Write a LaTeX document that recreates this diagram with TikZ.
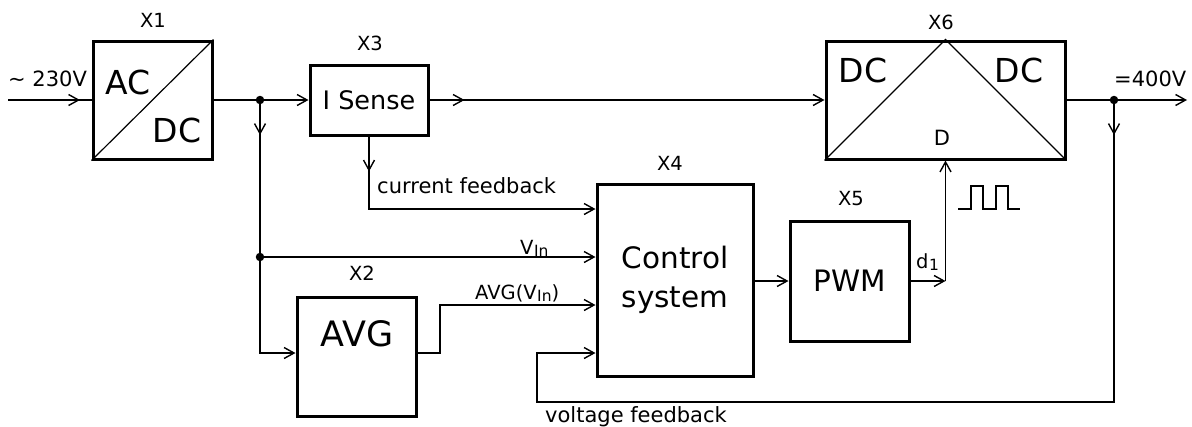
\documentclass[tikz,border=0pt]{standalone}
\usepackage{fontspec}
\setmainfont{DejaVu Sans}
\usetikzlibrary{arrows.meta,decorations.markings}
\newcommand\lowsub[1]{\raisebox{-2pt}{\fontsize{15.5}{15.5}\selectfont\kern0.5pt #1}}
\begin{document}
\begin{tikzpicture}[x=1pt,y=-1pt,
  >={Straight Barb[length=10pt,width=11pt]},
  conn/.style={line width=1.4pt},
  blk/.style={draw,line width=3pt,inner sep=0pt},
  thinline/.style={line width=1.2pt},
  tag/.style={font=\fontsize{19.5}{22}\selectfont,inner sep=0pt},
  sig/.style={font=\fontsize{21}{24}\selectfont,inner sep=0pt,anchor=base west},
  ssig/.style={font=\fontsize{19.5}{22}\selectfont,inner sep=0pt,anchor=base west},
  marrow/.style={postaction={decorate},decoration={markings,mark=at position #1 with {\arrow{Straight Barb[length=10pt,width=11pt]}}}},
  dot/.style={circle,fill,inner sep=0pt,minimum size=8.5pt}]
\useasboundingbox (0,0) rectangle (1192,426);

% blocks
\node[blk,minimum width=119pt,minimum height=118pt] (x1) at (152.5,100) {};
\draw[thinline] (x1.south west) -- (x1.north east);
\node[font=\fontsize{33}{36}\selectfont] (ac1) at (128,82) {AC};
\node[font=\fontsize{33}{36}\selectfont] (dc1) at (177,130) {DC};

\node[blk,minimum width=118pt,minimum height=70pt,font=\fontsize{25.5}{28}\selectfont] (x3) at (369,100) {I Sense};

\node[blk,minimum width=239pt,minimum height=118pt] (x6) at (945.5,100) {};
\draw[thinline] (x6.south west) -- (x6.north) -- (x6.south east);
\node[font=\fontsize{33}{36}\selectfont] (dc2) at (863,70) {DC};
\node[font=\fontsize{33}{36}\selectfont] (dc3) at (1019,70) {DC};
\node[font=\fontsize{21}{24}\selectfont] (dd) at (942,138) {D};

\node[blk,minimum width=156pt,minimum height=192pt,align=center,font=\fontsize{29.5}{39}\selectfont] (x4) at (675,280) {Control\\system};
\node[blk,minimum width=119pt,minimum height=120pt,font=\fontsize{29.5}{32}\selectfont] (x5) at (849.5,281) {PWM};
\node[blk,minimum width=119pt,minimum height=119pt] (x2) at (356.5,356.5) {};
\node[font=\fontsize{35}{38}\selectfont] (avg) at (357,334) {AVG};

% tags
\node[tag] (t1) at (153,20) {X1};
\node[tag] (t3) at (370,43) {X3};
\node[tag] (t6) at (941,22) {X6};
\node[tag] (t4) at (670,163) {X4};
\node[tag] (t5) at (851,199) {X5};
\node[tag] (t2) at (362,273) {X2};

% coordinates
\coordinate (in) at (8,100);
\coordinate (j1) at (260,100);
\coordinate (j2) at (260,257);
\coordinate (j3) at (260,353);
\coordinate (cfy) at (0,209);
\coordinate (a1) at (440,353);
\coordinate (a2) at (440,305);
\coordinate (j4) at (1114,100);
\coordinate (v1) at (1114,402);
\coordinate (v2) at (537,402);
\coordinate (v3) at (537,353);
\coordinate (out) at (1187,100);
\coordinate (d1c) at (945.5,281);

% connectors
\draw[conn,marrow=72pt] (in) -- (x1.west);
\draw[conn,->] (x1.east) -- (x3.west);
\draw[conn,->,marrow=35pt] (j1) -- (j3) -- (x2.west |- j3);
\draw[conn,->] (j2) -- (x4.west |- j2);
\draw[conn,->,marrow=35pt] (x3.east) -- (x6.west);
\draw[conn,->,marrow=35pt] (x3.south) |- (x4.west |- cfy);
\draw[conn,->] (x2.east |- j3) -- (a1) -- (a2) -- (x4.west |- a2);
\draw[conn,->,marrow=35pt] (j4) -- (v1) -- (v2) -- (v3) -- (x4.west |- v3);
\draw[conn,->] (x6.east) -- (out);
\draw[conn,->] (x4.east |- x5.west) -- (x5.west);
\draw[conn,->] (x5.east) -- (d1c);
\draw[conn,->] (d1c) -- (x6.south);

\node[dot] (dj1) at (j1) {};
\node[dot] (dj2) at (j2) {};
\node[dot] (dj4) at (j4) {};

% pulse symbol
\draw[conn] (958,209) -- (971,209) -- (971,186) -- (983,186) -- (983,209) -- (996,209) -- (996,186) -- (1008,186) -- (1008,209) -- (1020,209);

% signal labels
\node[sig] (lin) at (8,86) {\textasciitilde{} 230V};
\node[sig] (lout) at (1114,86) {=400V};
\node[sig] (lcf) at (377,193) {current feedback};
\node[sig] (lvf) at (545,422) {voltage feedback};
\node[ssig] (lvin) at (520,254) {V\lowsub{In}};
\node[ssig] (lavg) at (475,299) {AVG(V\lowsub{In})};
\node[ssig] (ld1) at (916,268) {d\lowsub{1}};
\end{tikzpicture}
\end{document}
